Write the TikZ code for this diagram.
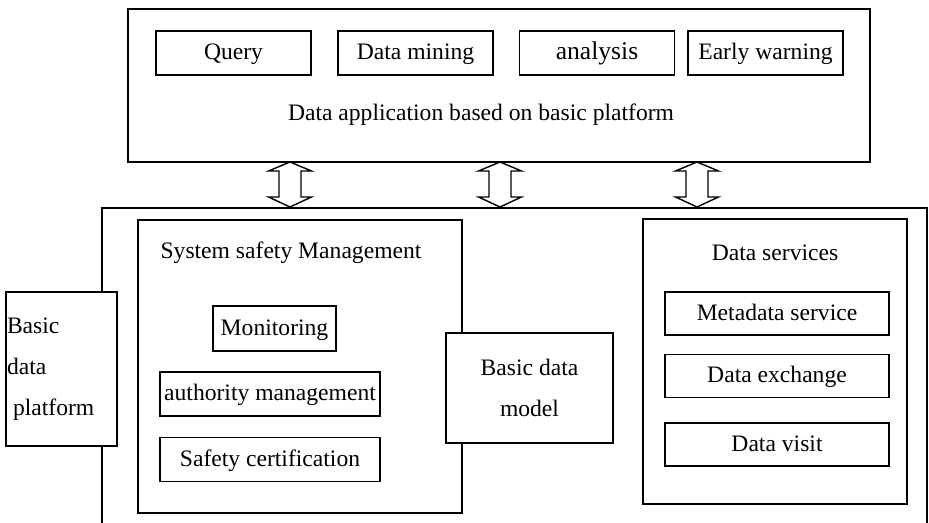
\documentclass[tikz,border=0pt]{standalone}
\usepackage{fontspec}
\setmainfont{Liberation Serif}
\usepackage{tikz}
\usetikzlibrary{positioning}
\tikzstyle{frame}=[draw,line width=0.6pt]
\tikzstyle{box}=[draw,fill=white,line width=0.6pt,inner sep=0pt,font=\fontsize{11.8}{20.5}\selectfont]
\tikzstyle{onebox}=[box,text height=0.66em,text depth=0pt]
\tikzstyle{appbox}=[onebox,minimum width=77.5pt,minimum height=22pt]
\tikzstyle{safebox}=[onebox,minimum width=110pt,minimum height=22pt]
\tikzstyle{servbox}=[onebox,minimum width=112pt,minimum height=21.5pt]
\tikzstyle{boxtitle}=[inner sep=0pt,font=\fontsize{11.8}{20.5}\selectfont]
\tikzstyle{twoway}=[draw,fill=white,line width=0.7pt,line join=miter]

\begin{document}
\begin{tikzpicture}[x=0.5pt,y=-0.5pt]
    \useasboundingbox (0,0) rectangle (929,523);

    % application layer
    \node[frame,minimum width=371pt,minimum height=76.5pt] (app) at (499,85.5) {};
    \node[boxtitle] (apptext) at (481,115) {Data application based on basic platform};
    \foreach \pos/ \name/ \txt in {{(233.5,53)/query/Query}, {(415.5,53)/mining/Data mining}, {(597,53)/analysis/{\fontsize{12.8}{14}\selectfont analysis}}, {(765.5,53)/warning/Early warning}}
        \node[appbox] (\name) at \pos {\txt};

    % platform frame, its bottom runs off the page
    \coordinate (pbl) at (102,523);
    \coordinate (pbr) at (927,523);
    \draw[frame] (pbl) -- (102,208) coordinate (ptl) -- (927,208) coordinate (ptr) -- (pbr);

    % two-way arrows between the layers
    \foreach \x in {290,500,697}
        \draw[twoway] (\x,162) -- ++(21.5,9) -- ++(-10.5,0) -- ++(0,26) -- ++(10.5,0) -- (\x,207)
            -- ++(-21.5,-10) -- ++(10.5,0) -- ++(0,-26) -- ++(-10.5,0) -- cycle;

    % system safety
    \node[frame,minimum width=162pt,minimum height=146.5pt] (safety) at (300,366.5) {};
    \node[boxtitle] (safetytext) at (291,253) {System safety Management};
    \node[onebox,minimum width=61.5pt,minimum height=22.5pt] (monitor) at (274.5,328.5) {Monitoring};
    \foreach \pos/ \name/ \txt in {{(270,394)/authority/authority management}, {(270,459.5)/certif/Safety certification}}
        \node[safebox] (\name) at \pos {\txt};

    % data services
    \node[frame,minimum width=132pt,minimum height=142.5pt] (services) at (775,361.5) {};
    \node[boxtitle] (servicestext) at (775,253) {Data services};
    \foreach \pos/ \name/ \txt in {{(777,313.5)/metadata/Metadata service}, {(777,376)/exchange/Data exchange}, {(777,444.5)/visit/Data visit}}
        \node[servbox] (\name) at \pos {\txt};

    \node[box,minimum width=83.5pt,minimum height=55pt,align=center] (model) at (529.5,388) {Basic data\\model};
    \node[box,minimum width=55.5pt,minimum height=77pt,text width=54.5pt,align=left] (basic) at (61.5,369) {Basic\\data\\\hspace{3pt}platform};

\end{tikzpicture}
\end{document}
